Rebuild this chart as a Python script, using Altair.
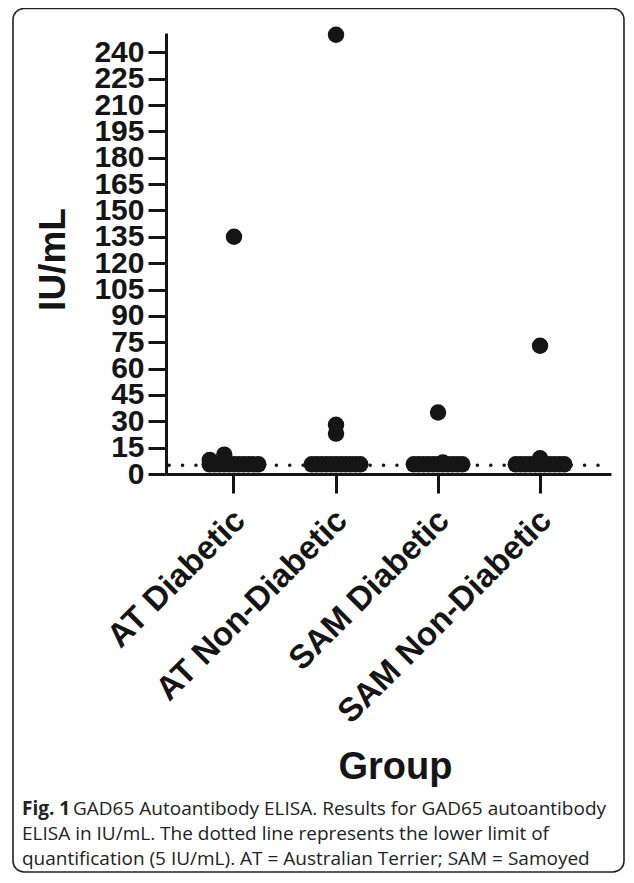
import altair as alt
import pandas as pd

groups = ["AT Diabetic", "AT Non-Diabetic", "SAM Diabetic", "SAM Non-Diabetic"]

# values (IU/mL) and their horizontal spreading slot within the column
at_d_values = [5.5, 5.5, 5.5, 5.5, 5.5, 5.5, 5.5, 5.5, 5.5, 5.5, 5.5, 8, 11, 135]
at_d_slots = [-5, -4, -3, -2, -1, 0, 1, 2, 3, 4, 5, -5, -2, 0]

at_nd_values = [5.5, 5.5, 5.5, 5.5, 5.5, 5.5, 5.5, 5.5, 5.5, 5.5, 5.5, 23, 28, 250]
at_nd_slots = [-5, -4, -3, -2, -1, 0, 1, 2, 3, 4, 5, 0, 0, 0]

sam_d_values = [5.5, 5.5, 5.5, 5.5, 5.5, 5.5, 5.5, 5.5, 5.5, 5.5, 5.5, 6.5, 35]
sam_d_slots = [-5, -4, -3, -2, -1, 0, 1, 2, 3, 4, 5, 1, 0]

sam_nd_values = [5.5, 5.5, 5.5, 5.5, 5.5, 5.5, 5.5, 5.5, 5.5, 5.5, 5.5, 9, 73]
sam_nd_slots = [-5, -4, -3, -2, -1, 0, 1, 2, 3, 4, 5, 0, 0]

y_ticks = [0, 15, 30, 45, 60, 75, 90, 105, 120, 135, 150, 165, 180, 195, 210, 225, 240]
lloq = 5

caption_bold = "Fig. 1"
caption_lines = [
    "GAD65 Autoantibody ELISA. Results for GAD65 autoantibody",
    "ELISA in IU/mL. The dotted line represents the lower limit of",
    "quantification (5 IU/mL). AT = Australian Terrier; SAM = Samoyed",
]

rows = []
for g, vals, slots in [
    (groups[0], at_d_values, at_d_slots),
    (groups[1], at_nd_values, at_nd_slots),
    (groups[2], sam_d_values, sam_d_slots),
    (groups[3], sam_nd_values, sam_nd_slots),
]:
    for v, s in zip(vals, slots):
        rows.append({"Group": g, "value": v, "slot": s})
df = pd.DataFrame(rows)

W, H = 445, 441
INK = "#151515"
FONT = "Liberation Sans"

xscale = alt.Scale(domain=groups, paddingInner=0, paddingOuter=0.181, align=0.46)
yscale = alt.Scale(domain=[0, 251], nice=False, zero=True)

y_axis = alt.Axis(
    title="IU/mL",
    values=y_ticks,
    titleFont=FONT,
    titleFontSize=37,
    titleFontWeight="bold",
    titleColor=INK,
    titleAngle=270,
    titleX=-113,
    titleY=226,
    titleAlign="center",
    titleBaseline="middle",
    labelFont=FONT,
    labelFontSize=30,
    labelFontWeight="bold",
    labelColor=INK,
    labelPadding=4,
    labelOverlap=False,
    labelBaseline="middle",
    tickSize=18,
    tickWidth=3,
    tickColor=INK,
    domainWidth=3,
    domainColor=INK,
    grid=False,
)

points = alt.Chart(df).mark_circle(size=270, color=INK, opacity=1).encode(
    x=alt.X(
        "Group:N",
        scale=xscale,
        sort=groups,
        axis=alt.Axis(
            title="Group",
            titleFont=FONT,
            titleFontSize=38,
            titleFontWeight="bold",
            titleColor=INK,
            titleX=229,
            titleY=293,
            titleBaseline="middle",
            titleAlign="center",
            labelFont=FONT,
            labelFontSize=33,
            labelFontWeight="bold",
            labelColor=INK,
            labelAngle=315,
            labelAlign="right",
            labelBaseline="middle",
            labelPadding=22,
            labelOffset=6,
            labelLimit=400,
            tickSize=19,
            tickWidth=3,
            tickColor=INK,
            domainWidth=3,
            domainColor=INK,
        ),
    ),
    xOffset=alt.XOffset("slot:O", scale=alt.Scale(domain=list(range(-10, 11)))),
    y=alt.Y("value:Q", scale=yscale, axis=y_axis),
)

rule = alt.Chart(alt.Data(values=[{"v": lloq}])).mark_rule(
    color=INK, strokeWidth=3.5, strokeDash=[0.1, 13.3], strokeCap="round", strokeDashOffset=0.4
).encode(y=alt.Y("v:Q", scale=yscale, axis=y_axis))

one = alt.Data(values=[{}])
frame = alt.Chart(one).mark_rect(
    fill="white", fillOpacity=0, stroke="#222222", strokeWidth=1.6, cornerRadius=11
).encode(
    x=alt.value(-153), x2=alt.value(458), y=alt.value(-24.5), y2=alt.value(839)
)

cap_font = "Open Sans"
cap_size = 19
cap_color = "#222222"
cap_y = [776, 801, 826]
texts = [
    alt.Chart(one).mark_text(
        text=caption_bold, font=cap_font, fontSize=cap_size, fontWeight="bold",
        align="left", baseline="middle", color=cap_color
    ).encode(x=alt.value(-144), y=alt.value(cap_y[0])),
    alt.Chart(one).mark_text(
        text=caption_lines[0], font=cap_font, fontSize=cap_size,
        align="left", baseline="middle", color=cap_color
    ).encode(x=alt.value(-93), y=alt.value(cap_y[0])),
    alt.Chart(one).mark_text(
        text=caption_lines[1], font=cap_font, fontSize=cap_size,
        align="left", baseline="middle", color=cap_color
    ).encode(x=alt.value(-144), y=alt.value(cap_y[1])),
    alt.Chart(one).mark_text(
        text=caption_lines[2], font=cap_font, fontSize=cap_size,
        align="left", baseline="middle", color=cap_color
    ).encode(x=alt.value(-144), y=alt.value(cap_y[2])),
]

chart = alt.layer(points, rule, frame, *texts).properties(
    width=W,
    height=H,
    padding={"left": 158, "top": 25, "right": 15, "bottom": 399},
    autosize=alt.AutoSizeParams(type="none"),
).configure_view(stroke=None)

chart.save("out.html", embed_options={"renderer": "svg", "actions": False})
